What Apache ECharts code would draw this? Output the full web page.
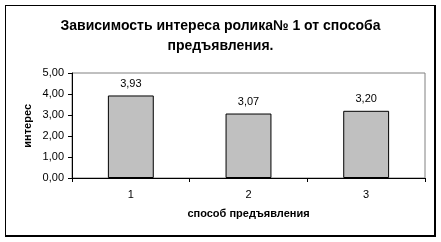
<!DOCTYPE html>
<html><head><meta charset="utf-8">
<script src="https://cdn.jsdelivr.net/npm/echarts@6/dist/echarts.min.js"></script>
<style>html,body{margin:0;padding:0;background:#fff}#c{width:441px;height:242px}</style>
</head><body><div id="c"></div>
<script>
const categories = ['1', '2', '3'];
const values = [3.93, 3.07, 3.20];
const yTicks = [0, 1, 2, 3, 4, 5];
const titleText = 'Зависимость интереса ролика№ 1 от способа\nпредъявления.';
const yName = 'интерес';
const xName = 'способ предъявления';

const chart = echarts.init(document.getElementById('c'), null, {renderer: 'canvas'});
const fmt = v => v.toFixed(2).replace('.', ',');
chart.setOption({
  animation: false,
  backgroundColor: '#fff',
  title: {
    text: titleText, left: 'center', top: 11,
    textStyle: {fontFamily: 'Liberation Sans, Arial', fontSize: 14, fontWeight: 'bold', color: '#000', lineHeight: 20}
  },
  graphic: [
    {type: 'rect', shape: {x: 5, y: 5, width: 431, height: 232}, style: {fill: '#000'}, z: -10},
    {type: 'rect', shape: {x: 6, y: 6, width: 428, height: 229}, style: {fill: '#fff'}, z: -9},
    {type: 'text', left: 22, top: 104, rotation: Math.PI/2, style: {text: yName, font: 'bold 11px Liberation Sans, Arial', fill: '#000'}}
  ],
  grid: {left: 72, right: 16, top: 73, bottom: 64, show: true, borderColor: '#808080', borderWidth: 1, backgroundColor: '#fff'},
  xAxis: {
    type: 'category', data: categories,
    name: xName, nameLocation: 'middle', nameGap: 30,
    nameTextStyle: {fontFamily: 'Liberation Sans, Arial', fontSize: 11, fontWeight: 'bold', color: '#000'},
    axisLine: {lineStyle: {color: '#000'}},
    axisTick: {show: true, alignWithLabel: false, length: 4, lineStyle: {color: '#000'}},
    axisLabel: {fontFamily: 'Liberation Sans, Arial', fontSize: 11, color: '#000', margin: 11}
  },
  yAxis: {
    type: 'value', min: 0, max: 5, interval: 1,
    axisLine: {show: true, lineStyle: {color: '#000'}},
    axisTick: {show: true, length: 4, lineStyle: {color: '#000'}},
    splitLine: {show: false},
    axisLabel: {fontFamily: 'Liberation Sans, Arial', fontSize: 11, color: '#000', margin: 8, formatter: v => yTicks.includes(v) ? fmt(v) : ''}
  },
  series: [{
    type: 'bar', data: values, barWidth: '39%',
    itemStyle: {color: '#C0C0C0', borderColor: '#000', borderWidth: 1},
    label: {show: true, position: 'top', distance: 6, formatter: p => fmt(p.value),
      fontFamily: 'Liberation Sans, Arial', fontSize: 11, color: '#000'}
  }]
});
</script></body></html>
